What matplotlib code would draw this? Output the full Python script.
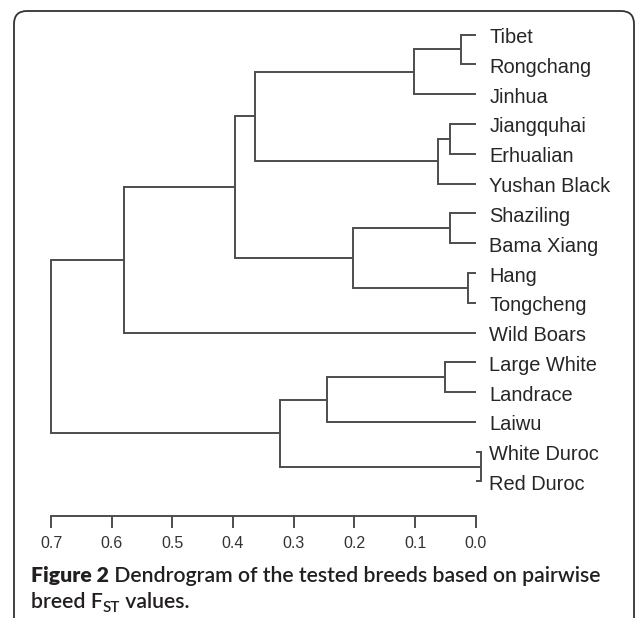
import matplotlib
matplotlib.use("Agg")
import matplotlib.pyplot as plt
from matplotlib.transforms import offset_copy
from matplotlib.patches import FancyBboxPatch

# ---------------- data ----------------
leaves = ["Tibet", "Rongchang", "Jinhua", "Jiangquhai", "Erhualian",
          "Yushan Black", "Shaziling", "Bama Xiang", "Hang", "Tongcheng",
          "Wild Boars", "Large White", "Landrace", "Laiwu",
          "White Duroc", "Red Duroc"]
# linkage: node ids 0..15 are leaves, 16.. are merged clusters (in order)
merge_left = [0, 16, 3, 18, 17, 6, 8, 21, 20, 24, 11, 26, 14, 27, 25]
merge_right = [1, 2, 4, 5, 19, 7, 9, 22, 23, 10, 12, 13, 15, 28, 29]
merge_height = [0.025, 0.102, 0.043, 0.062, 0.363, 0.043, 0.013, 0.202,
                0.397, 0.580, 0.050, 0.245, -0.008, 0.323, 0.700]
tick_values = [0.7, 0.6, 0.5, 0.4, 0.3, 0.2, 0.1, 0.0]
tick_labels = ["0.7", "0.6", "0.5", "0.4", "0.3", "0.2", "0.1", "0.0"]
caption_bold = "Figure 2"
caption_line1 = " Dendrogram of the tested breeds based on pairwise"
caption_line2 = ["breed F", "ST", " values."]

# ---------------- figure ----------------
W, H = 635, 618
DPI = 100
fig = plt.figure(figsize=(W / DPI, H / DPI), dpi=DPI)
fig.patch.set_facecolor("white")

line_col = "#4d4d4d"
text_col = "#262626"

# axes placement (pixel based)
x0_px, x1_px = 51.0, 475.7
leaf0_px, step_px = 34.5, 29.8
axis_px = 516.0
n = len(leaves)
y_bottom = (axis_px - leaf0_px) / step_px
y_top = -0.5
top_px = leaf0_px + y_top * step_px
ax = fig.add_axes([x0_px / W, 1 - axis_px / H, (x1_px - x0_px) / W,
                   (axis_px - top_px) / H])
ax.set_xlim(0.7, 0.0)
ax.set_ylim(y_bottom, y_top)

# dendrogram
xpos = {i: 0.0 for i in range(n)}
ypos = {i: float(i) for i in range(n)}
for k, (a, b, h) in enumerate(zip(merge_left, merge_right, merge_height)):
    node = n + k
    ax.plot([xpos[a], h, h, xpos[b]], [ypos[a], ypos[a], ypos[b], ypos[b]],
            color=line_col, lw=1.4, clip_on=False, solid_joinstyle="miter",
            solid_capstyle="butt")
    xpos[node] = h
    ypos[node] = (ypos[a] + ypos[b]) / 2

# leaf labels
lab_tr = offset_copy(ax.transData, fig=fig, x=13.6, y=-8.6, units="dots")
for i, name in enumerate(leaves):
    ax.text(0.0, i, name, transform=lab_tr, ha="left", va="baseline",
            fontsize=14.4, family="Liberation Sans", color=text_col,
            clip_on=False)

# axis
for s in ["top", "left", "right"]:
    ax.spines[s].set_visible(False)
ax.spines["bottom"].set_bounds(0.7, 0.0)
ax.spines["bottom"].set_color(line_col)
ax.spines["bottom"].set_linewidth(1.4)
ax.set_yticks([])
ax.set_xticks(tick_values)
ax.set_xticklabels(tick_labels, family="Liberation Sans", fontsize=11.5,
                   color="#333333")
ax.tick_params(axis="x", direction="out", length=8.6, width=1.4,
               color=line_col, pad=5.5)
ax.patch.set_visible(False)

# rounded frame
frame = FancyBboxPatch((14 / DPI, -1.0), (634 - 14) / DPI, (H - 11) / DPI + 1.0,
                       boxstyle="round,pad=0,rounding_size=0.13",
                       transform=fig.dpi_scale_trans, fill=False,
                       edgecolor="#333333", lw=1.3, clip_on=False)
fig.add_artist(frame)

# caption
renderer = fig.canvas.get_renderer()
cap_family = "Lato"


def draw_runs(x_px, y_px, runs):
    texts = []
    x = x_px
    for txt, kw, dy in runs:
        t = fig.text(x / DPI, (y_px + dy) / DPI, txt,
                     transform=fig.dpi_scale_trans, ha="left", va="baseline",
                     family=cap_family, color="#231f20", **kw)
        bb = t.get_window_extent(renderer)
        x = bb.x1
        texts.append(t)
    return texts, x - x_px


def line1(size):
    return [(caption_bold, dict(fontsize=size, weight="heavy"), 0),
            (caption_line1, dict(fontsize=size, weight="semibold"), 0)]


probe, w = draw_runs(30.7, H - 581.7, line1(12))
for t in probe:
    t.remove()
size = 12 * 569.0 / w
draw_runs(30.7, H - 581.7, line1(size))
draw_runs(30.7, H - 607.7,
          [(caption_line2[0], dict(fontsize=size, weight="semibold"), 0),
           (caption_line2[1], dict(fontsize=size * 0.72, weight="semibold"), -4),
           (caption_line2[2], dict(fontsize=size, weight="semibold"), 0)])

fig.savefig("out.png", dpi=DPI)
